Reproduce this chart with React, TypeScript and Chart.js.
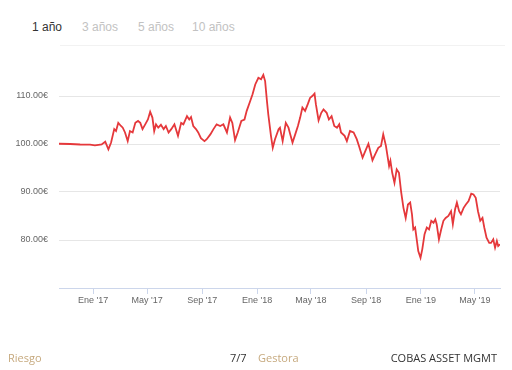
import React, { useEffect, useRef } from "react";
import { Chart, registerables } from "chart.js";

Chart.register(...registerables);

// Periods (tabs)
const periods = ["1 año", "3 años", "5 años", "10 años"];

// X axis: day offsets from 1 Jan 2017 and their labels
const tickDays = [0, 120, 243, 365, 485, 608, 730, 850];
const tickLabels = ["Ene '17", "May '17", "Sep '17", "Ene '18", "May '18", "Sep '18", "Ene '19", "May '19"];
const yTicks = [70, 80, 90, 100, 110];

// Series: day offset from 1 Jan 2017, NAV in €
const days = [
  -76, -51, -29, -7, 4, 12, 19, 27, 34, 40, 47, 51, 56, 62, 66, 71, 77, 82, 88, 94,
  100, 105, 110, 116, 122, 127, 132, 136, 140, 145, 151, 157, 162, 168, 174, 181, 189, 196, 201, 209,
  214, 218, 223, 229, 234, 240, 248, 253, 261, 268, 275, 283, 290, 298, 305, 310, 316, 322, 330, 337,
  342, 350, 355, 361, 368, 374, 379, 383, 387, 390, 396, 400, 405, 413, 416, 422, 429, 435, 439, 444,
  450, 456, 461, 466, 472, 478, 483, 488, 493, 496, 502, 508, 513, 520, 525, 531, 537, 543, 548, 552,
  560, 565, 572, 580, 587, 592, 600, 606, 613, 622, 628, 635, 641, 646, 652, 656, 659, 662, 666, 671,
  676, 681, 686, 691, 696, 701, 706, 710, 713, 717, 721, 724, 729, 733, 738, 743, 748, 753, 758, 762,
  765, 770, 775, 780, 785, 791, 797, 801, 806, 810, 815, 819, 825, 830, 836, 842, 847, 852, 857, 862,
  867, 871, 876, 882, 886, 891, 895, 899, 902, 906,
];
const values = [
  100.05, 100.0, 99.9, 99.85, 99.7, 99.8, 99.9, 100.5, 98.9, 100.3, 103.1, 102.7, 104.4, 103.75, 103.4, 102.4, 100.6, 102.7, 102.4, 104.4,
  104.8, 104.4, 103.1, 104.1, 105.1, 106.7, 105.5, 102.7, 104.1, 103.4, 104.0, 103.1, 103.75, 102.4, 103.1, 104.1, 101.7, 104.4, 104.1, 105.8,
  105.1, 105.6, 103.75, 103.1, 102.4, 101.2, 100.6, 101.0, 102.0, 103.1, 104.1, 103.75, 104.1, 102.4, 105.5, 104.4, 100.8, 102.4, 104.8, 105.1,
  106.9, 109.0, 110.35, 112.4, 113.8, 113.5, 114.4, 113.1, 109.0, 106.2, 101.7, 99.2, 101.0, 103.1, 103.4, 100.6, 104.4, 103.4, 102.0, 100.3,
  102.0, 103.75, 105.5, 107.6, 106.9, 108.3, 109.6, 110.0, 110.5, 108.3, 104.9, 106.5, 107.2, 106.5, 105.1, 105.8, 103.75, 103.4, 104.1, 102.4,
  101.7, 100.6, 102.7, 102.4, 101.0, 99.6, 97.15, 98.5, 100.05, 96.6, 97.85, 99.2, 99.6, 102.0, 99.6, 97.2, 95.4, 96.5, 94.0, 91.9,
  94.7, 94.0, 89.9, 86.7, 84.6, 87.4, 87.8, 85.35, 82.2, 82.6, 79.8, 77.7, 76.3, 78.1, 81.2, 82.6, 82.2, 84.0, 83.6, 84.3,
  83.3, 80.15, 82.2, 84.0, 84.6, 85.0, 86.0, 83.3, 86.4, 87.8, 86.0, 85.35, 86.7, 87.4, 88.1, 89.65, 89.5, 88.8, 86.0, 84.0,
  84.6, 82.6, 80.5, 79.4, 79.4, 80.15, 78.4, 79.8, 78.75, 79.1,
];

export default function App() {
  const ref = useRef<HTMLCanvasElement | null>(null);

  useEffect(() => {
    if (!ref.current) return;
    Chart.defaults.font.family = "'Liberation Sans', Arial, sans-serif";
    const chart = new Chart(ref.current, {
      type: "line",
      data: {
        datasets: [
          {
            data: days.map((d, i) => ({ x: d, y: values[i] })),
            borderColor: "#e5383b",
            borderWidth: 1.8,
            pointRadius: 0,
            tension: 0,
            fill: false,
          },
        ],
      },
      options: {
        animation: false,
        responsive: false,
        events: [],
        layout: { padding: { top: 57.6, left: 0, right: 12, bottom: 0 } },
        plugins: { legend: { display: false }, tooltip: { enabled: false } },
        scales: {
          x: {
            type: "linear",
            min: -76,
            max: 906,
            afterBuildTicks: (s: any) => {
              s.ticks = tickDays.map((v) => ({ value: v }));
            },
            afterFit: (s: any) => {
              s.height = 82;
            },
            grid: {
              drawOnChartArea: false,
              drawTicks: true,
              tickLength: 6,
              color: "#ccd6eb",
            },
            border: { display: true, color: "#ccd6eb", width: 1 },
            ticks: {
              padding: 1,
              maxRotation: 0,
              autoSkip: false,
              color: "#666666",
              font: { size: 9 },
              callback: (v: any) => {
                const i = tickDays.indexOf(Number(v));
                return i >= 0 ? tickLabels[i] : "";
              },
            },
          },
          y: {
            min: 70,
            max: 118,
            afterBuildTicks: (s: any) => {
              s.ticks = yTicks.map((v) => ({ value: v }));
            },
            afterFit: (s: any) => {
              s.width = 59;
            },
            grid: { color: "#e6e6e6", drawTicks: false },
            border: { display: false },
            ticks: {
              padding: 11,
              color: "#666666",
              font: { size: 9 },
              callback: (v: any) => (Number(v) === 70 ? "" : Number(v).toFixed(2) + "€"),
            },
          },
        },
      },
    });
    return () => chart.destroy();
  }, []);

  const tabLefts = [32, 82, 138, 192];

  return (
    <div style={{ position: "absolute", left: 0, top: 0, width: 512, height: 370, background: "#fff", overflow: "hidden" }}>
      {periods.map((p, i) => (
        <div
          key={p}
          style={{
            position: "absolute",
            left: tabLefts[i],
            top: 19,
            fontFamily: "'Liberation Sans', Arial, sans-serif",
            fontSize: 12,
            lineHeight: "16px",
            color: i === 0 ? "#333333" : "#c2c2c2",
            whiteSpace: "nowrap",
          }}
        >
          {p}
        </div>
      ))}
      <div style={{ position: "absolute", left: 60, top: 45, width: 445, height: 1, background: "#f2f2f2" }} />
      <canvas ref={ref} width={512} height={370} style={{ position: "absolute", left: 0, top: 0, display: "block" }} />
      <div style={{ position: "absolute", left: 8, top: 350, fontFamily: "'Open Sans', sans-serif", fontSize: 11, lineHeight: "16px", color: "#c6a97e", whiteSpace: "nowrap" }}>
        Riesgo
      </div>
      <div style={{ position: "absolute", left: 230, top: 350, fontFamily: "'Open Sans', sans-serif", fontSize: 11, lineHeight: "16px", color: "#333333", whiteSpace: "nowrap" }}>
        7/7
      </div>
      <div style={{ position: "absolute", left: 258, top: 350, fontFamily: "'Open Sans', sans-serif", fontSize: 11, lineHeight: "16px", color: "#c6a97e", whiteSpace: "nowrap" }}>
        Gestora
      </div>
      <div style={{ position: "absolute", right: 15, top: 350, fontFamily: "'Open Sans', sans-serif", fontSize: 11, lineHeight: "16px", color: "#333333", whiteSpace: "nowrap" }}>
        COBAS ASSET MGMT
      </div>
    </div>
  );
}
